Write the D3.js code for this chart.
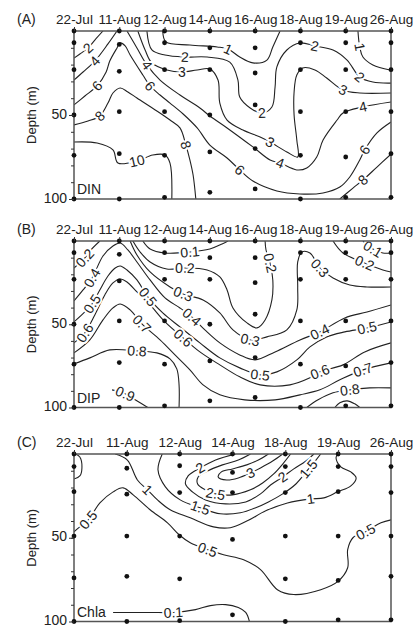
<!DOCTYPE html>
<html>
<head>
<meta charset="utf-8">
<script src="https://cdn.jsdelivr.net/npm/d3@7"></script>
<style>
  body { margin: 0; background: #fff; }
  text { font-family: "Liberation Sans", Arial, sans-serif; fill: #222; }
</style>
</head>
<body>
<svg id="chart" width="420" height="628"></svg>
<script>
// ---- data ----
const datesAB = ["22-Jul", "11-Aug", "12-Aug", "14-Aug", "16-Aug", "18-Aug", "19-Aug", "26-Aug"];
const datesC = ["22-Jul", "11-Aug", "12-Aug", "14-Aug", "18-Aug", "19-Aug", "26-Aug"];
const depthTicks = [50, 100];

// sampling depths (m) per cruise date
const sampleDepthsAB = [
  [0, 7, 23, 50, 74, 100],
  [0, 8, 24, 48, 73, 100],
  [0, 7, 23, 48, 74, 99],
  [0, 10, 23, 50, 72, 96],
  [0, 10, 25, 44, 70, 94],
  [0, 7, 23, 48, 74, 100],
  [0, 7, 23, 48, 75, 99],
  [0, 7, 23, 48, 73, 99]
];
const sampleDepthsC = [
  [0, 7.5, 22.5, 49, 74, 100],
  [0, 8.5, 24, 49, 73, 100],
  [0, 7, 23, 49, 74.5, 99.5],
  [0, 11, 23, 51, 96],
  [0, 7.5, 23, 49, 74.5, 100],
  [0, 7.5, 22.5, 49, 75.5, 99],
  [0, 7.5, 23, 49, 73, 99]
];

// contour lines: points are [date position, depth], "at" = labelled points
const dinContours = [
  { level: 2, at: [2], pts: [[0.64,0],[0.46,5.4],[0.31,10.1],[0.13,13.7],[0,16.1]] },
  { level: 4, at: [2], pts: [[0.95,0],[0.75,7.7],[0.46,17.9],[0.2,24.4],[0,29.2]] },
  { level: 6, at: [2, 10, 17, 25], pts: [[0,44],[0.24,38.7],[0.51,32.7],[0.71,24.4],[0.79,17.9],[0.95,10.1],[1.02,7.1],[1.13,8.9],[1.24,14.3],[1.52,26.2],[1.68,32.7],[1.9,38.1],[2.12,42.9],[2.41,49.4],[2.72,57.7],[3.0,67.9],[3.38,75.6],[3.66,82.7],[3.95,89.3],[4.48,95.2],[4.99,97],[5.5,96.4],[5.87,92.9],[6.09,86.9],[6.31,76.8],[6.42,70.8],[6.69,60.7],[7,54.2]] },
  { level: 8, at: [2, 11], pts: [[0,55.9],[0.31,53.6],[0.57,50.6],[0.75,42.9],[0.86,36.9],[1.02,33.9],[1.19,36.3],[1.39,39.9],[1.83,47.6],[2.12,53],[2.34,57.7],[2.47,67.9],[2.56,76.8],[2.63,85.7],[2.69,100]] },
  { level: 8, at: [2], pts: [[5.87,100],[6.16,93.5],[6.38,88.7],[6.69,81],[6.98,73.8]] },
  { level: 10, at: [4], pts: [[0,66.1],[0.51,66.7],[0.86,70.8],[0.97,78.6],[1.39,77.4],[1.74,73.8],[2.01,73.8],[2.12,78.6],[2.16,100]] },
  { level: 4, at: [2, 10, 17], pts: [[1.17,0],[1.39,10.1],[1.61,20.2],[1.9,29.2],[2.34,38.1],[2.78,45.8],[3.0,50.6],[3.38,57.7],[3.95,69],[4.33,76.8],[4.55,78.6],[4.92,82.7],[5.14,81.5],[5.36,75],[5.5,64.9],[5.81,53],[5.94,48.8],[6.38,45.2],[7,42.3]] },
  { level: 3, at: [4, 12, 22], pts: [[1.41,0],[1.57,11.3],[1.72,19],[2.05,23.2],[2.38,24.4],[2.72,23.2],[3.0,22.6],[3.18,29.2],[3.22,42.9],[3.38,53],[3.73,58.9],[4.11,63.1],[4.33,66.1],[4.7,72],[4.94,75],[4.92,64.9],[4.86,50],[4.86,36.3],[4.92,26.2],[5.05,22],[5.32,23.2],[5.58,28],[5.94,35.1],[6.31,36.9],[7,36.9]] },
  { level: 2, at: [3, 9, 15, 18], pts: [[1.61,0],[1.72,11.3],[2.01,14.3],[2.45,15.5],[2.94,15.5],[3.44,18.5],[3.62,29.2],[3.66,39.3],[3.89,45.8],[4.15,48.8],[4.37,45.2],[4.44,33.3],[4.48,21.4],[4.7,11.3],[4.99,7.1],[5.32,8.9],[5.72,11.3],[6.03,17.3],[6.31,27.4],[6.6,30.4],[7,31]] },
  { level: 1, at: [4], pts: [[1.96,0],[2.03,6.5],[2.56,8.3],[3.16,9.5],[3.4,10.7],[3.66,15.5],[3.95,19],[4.26,17.3],[4.39,9.5],[4.55,0]] },
  { level: 1, at: [1], pts: [[6.27,0],[6.31,9.5],[6.38,15.5],[6.6,20.2],[6.98,23.2]] }
];

const dipContours = [
  { level: 0.1, at: [3], pts: [[1.52,0],[1.68,4.8],[2.01,7.2],[2.56,6.6],[3.0,4.8],[3.27,1.8],[3.4,0]] },
  { level: 0.1, at: [1], pts: [[6.38,0],[6.6,4.8],[6.82,7.2],[7,7.2]] },
  { level: 0.2, at: [2], pts: [[0.57,0],[0.35,6],[0.24,10.2],[0,16.2]] },
  { level: 0.2, at: [4, 14], pts: [[1.3,0],[1.46,6.6],[1.68,12.6],[2.05,16.8],[2.45,16.2],[2.94,17.4],[3.22,21.6],[3.38,29.4],[3.51,40.2],[3.82,49.2],[4.04,52.2],[4.22,47.4],[4.37,35.4],[4.39,23.4],[4.33,13.2],[4.24,5.4],[4.22,0]] },
  { level: 0.2, at: [2], pts: [[5.72,0],[5.94,7.2],[6.42,13.2],[6.82,17.4],[7,18.6]] },
  { level: 0.3, at: [4, 8, 16], pts: [[1.24,0],[1.39,8.4],[1.68,18.6],[2.12,27.6],[2.41,31.8],[2.85,35.4],[3.22,43.2],[3.51,53.4],[3.89,59.4],[4.26,57.6],[4.7,53.4],[4.92,41.4],[4.94,27.6],[4.94,12.6],[5.03,6.6],[5.21,7.2],[5.43,16.2],[5.72,22.2],[6.09,26.4],[6.47,27.6],[7,27.6]] },
  { level: 0.4, at: [2, 11, 18], pts: [[0,36],[0.2,29.4],[0.4,22.2],[0.64,9],[0.86,3],[1.02,1.2],[1.19,5.4],[1.39,12.6],[1.68,23.4],[2.01,34.2],[2.34,40.2],[2.6,45.6],[2.89,53.4],[3.22,61.2],[3.66,68.4],[4.0,71.4],[4.44,66.6],[4.99,59.4],[5.43,54.6],[5.98,46.2],[6.47,42.6],[7,38.4]] },
  { level: 0.5, at: [2, 9, 15, 21], pts: [[0,48.6],[0.24,42.6],[0.4,37.8],[0.57,29.4],[0.75,21],[0.91,16.2],[1.02,15],[1.17,17.4],[1.39,23.4],[1.63,33.6],[1.96,43.2],[2.34,51.6],[2.78,61.2],[3.22,70.2],[3.66,76.2],[4.11,80.4],[4.48,78.6],[4.92,71.4],[5.21,63.6],[5.58,57.6],[5.98,54.6],[6.47,52.2],[7,48.6]] },
  { level: 0.6, at: [2, 11, 18], pts: [[0,61.2],[0.13,58.2],[0.24,55.2],[0.46,44.4],[0.68,32.4],[0.86,25.2],[1.02,22.8],[1.17,24.6],[1.39,30.6],[1.68,38.4],[2.01,48.6],[2.41,58.2],[2.78,66.6],[3.22,74.4],[3.66,81.6],[4.11,86.4],[4.77,86.4],[5.21,82.2],[5.43,78.6],[5.94,74.4],[6.42,66.6],[7,61.2]] },
  { level: 0.7, at: [6, 17], pts: [[0,67.2],[0.35,59.4],[0.64,47.4],[0.86,40.2],[1.02,37.8],[1.24,41.4],[1.5,49.8],[1.9,59.4],[2.23,68.4],[2.56,77.4],[2.85,86.4],[3.22,92.4],[3.77,95.4],[4.44,95.4],[4.99,92.4],[5.43,89.4],[5.87,83.4],[6.38,77.4],[7,73.2]] },
  { level: 0.8, at: [3], pts: [[0,73.8],[0.35,70.2],[0.79,65.4],[1.39,66],[1.83,67.2],[2.12,70.8],[2.27,76.8],[2.32,86.4],[2.32,100]] },
  { level: 0.8, at: [2], pts: [[7,88.2],[6.53,88.2],[6.09,89.4],[5.72,91.2],[5.39,95.4],[5.14,100]] },
  { level: 0.9, at: [1], pts: [[0.84,89.4],[1.13,91.8],[1.35,95.4],[1.63,100]] },
  { level: 0.9, at: [], pts: [[5.76,100],[5.87,97.2],[6.03,96],[6.2,97.8],[6.31,100]] }
];

const chlaContours = [
  { level: 0.5, at: [], pts: [[0.02,0],[0.11,1.8],[0.15,8.3],[0.11,13.1],[0,14.9]] },
  { level: 0.5, at: [2, 11, 22], pts: [[0,46.4],[0.11,43.5],[0.27,39.3],[0.49,29.2],[0.74,22.6],[0.93,20.2],[1.12,24.4],[1.44,33.3],[1.77,41.1],[1.99,48.2],[2.2,53],[2.53,57.1],[2.83,60.1],[3.21,63.1],[3.53,69],[3.85,81],[4.16,83.9],[4.67,81],[4.99,76.2],[5.18,67.9],[5.18,57.1],[5.28,50],[5.52,46.4],[5.81,41.1],[6,39.3]] },
  { level: 1, at: [3, 12], pts: [[0.78,0],[1.01,3.6],[1.2,15.5],[1.39,21.4],[1.58,27.4],[1.82,33.3],[2.2,38.1],[2.64,43.5],[2.96,44],[3.28,39.9],[3.63,33.9],[4.04,29.2],[4.48,26.8],[4.73,26.2],[4.99,22.6],[5.24,19],[5.34,14.3],[5.24,10.7],[5.05,7.7],[4.96,2.4],[4.99,0]] },
  { level: 1.5, at: [4, 11], pts: [[1.67,0],[1.59,9.5],[1.73,19.6],[2.01,27.4],[2.39,32.1],[2.77,35.7],[3.15,35.1],[3.44,32.1],[3.68,28.6],[3.95,23.8],[4.2,17.9],[4.44,8.9],[4.58,3.6],[4.67,0]] },
  { level: 2, at: [2, 11], pts: [[3.06,0],[2.68,3.6],[2.39,8.3],[2.16,13.1],[2.11,17.9],[2.24,22.6],[2.49,27.4],[2.87,29.8],[3.25,28.6],[3.53,23.8],[3.72,18.5],[3.95,13.7],[4.16,8.9],[4.39,4.2],[4.54,0]] },
  { level: 2.5, at: [7], pts: [[3.34,0],[3.11,3.6],[2.81,6.5],[2.53,10.1],[2.35,13.7],[2.34,17.9],[2.49,21.4],[2.68,23.8],[3.0,24.4],[3.34,21.4],[3.57,17.3],[3.78,11.9],[3.95,6],[4.1,0]] },
  { level: 3, at: [3], pts: [[3.95,0],[3.76,4.2],[3.53,8.3],[3.34,11.3],[3.11,14.3],[2.89,15.5],[2.73,13.7],[2.79,10.7],[3.0,8.9],[3.27,6.5],[3.49,3.6],[3.68,0]] },
  { level: 0.1, at: [2], pts: [[0.74,94.6],[1.44,94.6],[1.88,94.6],[2.3,92.9],[2.58,90.5],[2.87,89.9],[3.11,91.7],[3.25,94.6],[3.32,100]] }
];

// ---- layout ----
const svg = d3.select("#chart");
const plotLeft = 74, plotRight = 391;

const panels = [
  { key: "A", tag: "(A)", name: "DIN", dates: datesAB, samples: sampleDepthsAB, lines: dinContours, top: 31, bottom: 199 },
  { key: "B", tag: "(B)", name: "DIP", dates: datesAB, samples: sampleDepthsAB, lines: dipContours, top: 241, bottom: 407.5 },
  { key: "C", tag: "(C)", name: "Chla", dates: datesC, samples: sampleDepthsC, lines: chlaContours, top: 454, bottom: 621.5 }
];

panels.forEach(drawPanel);

function drawPanel(p) {
  const x = d3.scaleLinear().domain([0, p.dates.length - 1]).range([plotLeft, plotRight]);
  const y = d3.scaleLinear().domain([0, 100]).range([p.top, p.bottom]);
  const g = svg.append("g").attr("class", "panel-" + p.key);

  const clipId = "clip-" + p.key;
  svg.append("clipPath").attr("id", clipId)
    .append("rect")
    .attr("x", plotLeft).attr("y", p.top)
    .attr("width", plotRight - plotLeft).attr("height", p.bottom - p.top);

  const line = d3.line()
    .x(d => x(d[0]))
    .y(d => y(d[1]))
    .curve(d3.curveCatmullRom.alpha(0.5));

  g.append("g")
    .attr("clip-path", "url(#" + clipId + ")")
    .selectAll("path")
    .data(p.lines)
    .join("path")
    .attr("d", d => line(d.pts))
    .attr("fill", "none")
    .attr("stroke", "#222")
    .attr("stroke-width", 1.1);

  // contour labels, turned along the line
  const labs = p.lines.flatMap(l => l.at.map(i => {
    const a = l.pts[Math.max(i - 1, 0)];
    const b = l.pts[Math.min(i + 1, l.pts.length - 1)];
    let ang = Math.atan2(y(b[1]) - y(a[1]), x(b[0]) - x(a[0])) * 180 / Math.PI;
    if (ang > 90) ang -= 180;
    if (ang < -90) ang += 180;
    return { text: String(l.level), px: x(l.pts[i][0]), py: y(l.pts[i][1]), ang };
  }));

  g.selectAll("text.clab")
    .data(labs)
    .join("text")
    .attr("class", "clab")
    .attr("transform", d => "translate(" + d.px + "," + d.py + ") rotate(" + d.ang + ")")
    .attr("text-anchor", "middle")
    .attr("dy", "0.35em")
    .attr("font-size", 14)
    .attr("stroke", "#fff")
    .attr("stroke-width", 4)
    .attr("paint-order", "stroke")
    .text(d => d.text);

  // frame
  g.append("rect")
    .attr("x", plotLeft).attr("y", p.top)
    .attr("width", plotRight - plotLeft).attr("height", p.bottom - p.top)
    .attr("fill", "none")
    .attr("stroke", "#555")
    .attr("stroke-width", 1.5);

  // sampling points
  const pts = p.samples.flatMap((ds, i) => ds.map(d => [i, d]));
  g.selectAll("circle")
    .data(pts)
    .join("circle")
    .attr("cx", d => x(d[0]))
    .attr("cy", d => y(d[1]))
    .attr("r", 2.4)
    .attr("fill", "#111");

  // top axis with dates
  const topAxis = g.append("g")
    .attr("transform", "translate(0," + p.top + ")")
    .call(d3.axisTop(x)
      .tickValues(d3.range(p.dates.length))
      .tickFormat(i => p.dates[i])
      .tickSize(4)
      .tickPadding(3));
  topAxis.select(".domain").remove();
  topAxis.selectAll("line").attr("stroke", "#333");
  topAxis.selectAll("text").attr("font-size", 13.5).attr("font-family", null).attr("fill", "#222");

  // depth axis
  const minor = g.append("g")
    .attr("transform", "translate(" + plotLeft + ",0)")
    .call(d3.axisLeft(y).tickValues(d3.range(10, 100, 10)).tickSize(3).tickFormat(""));
  minor.select(".domain").remove();
  minor.selectAll("line").attr("stroke", "#333");

  const left = g.append("g")
    .attr("transform", "translate(" + plotLeft + ",0)")
    .call(d3.axisLeft(y).tickValues(depthTicks).tickSize(5).tickPadding(2));
  left.select(".domain").remove();
  left.selectAll("line").attr("stroke", "#333");
  left.selectAll("text")
    .attr("font-size", 14)
    .attr("font-family", null)
    .attr("fill", "#222")
    .attr("dy", "0.22em");

  g.append("text")
    .attr("transform", "translate(36," + ((p.top + p.bottom) / 2) + ") rotate(-90)")
    .attr("text-anchor", "middle")
    .attr("font-size", 13)
    .text("Depth (m)");

  g.append("text")
    .attr("x", 17).attr("y", p.top - 7)
    .attr("font-size", 14)
    .text(p.tag);

  g.append("text")
    .attr("x", 77).attr("y", p.bottom - 5)
    .attr("font-size", 14)
    .text(p.name);
}
</script>
</body>
</html>
